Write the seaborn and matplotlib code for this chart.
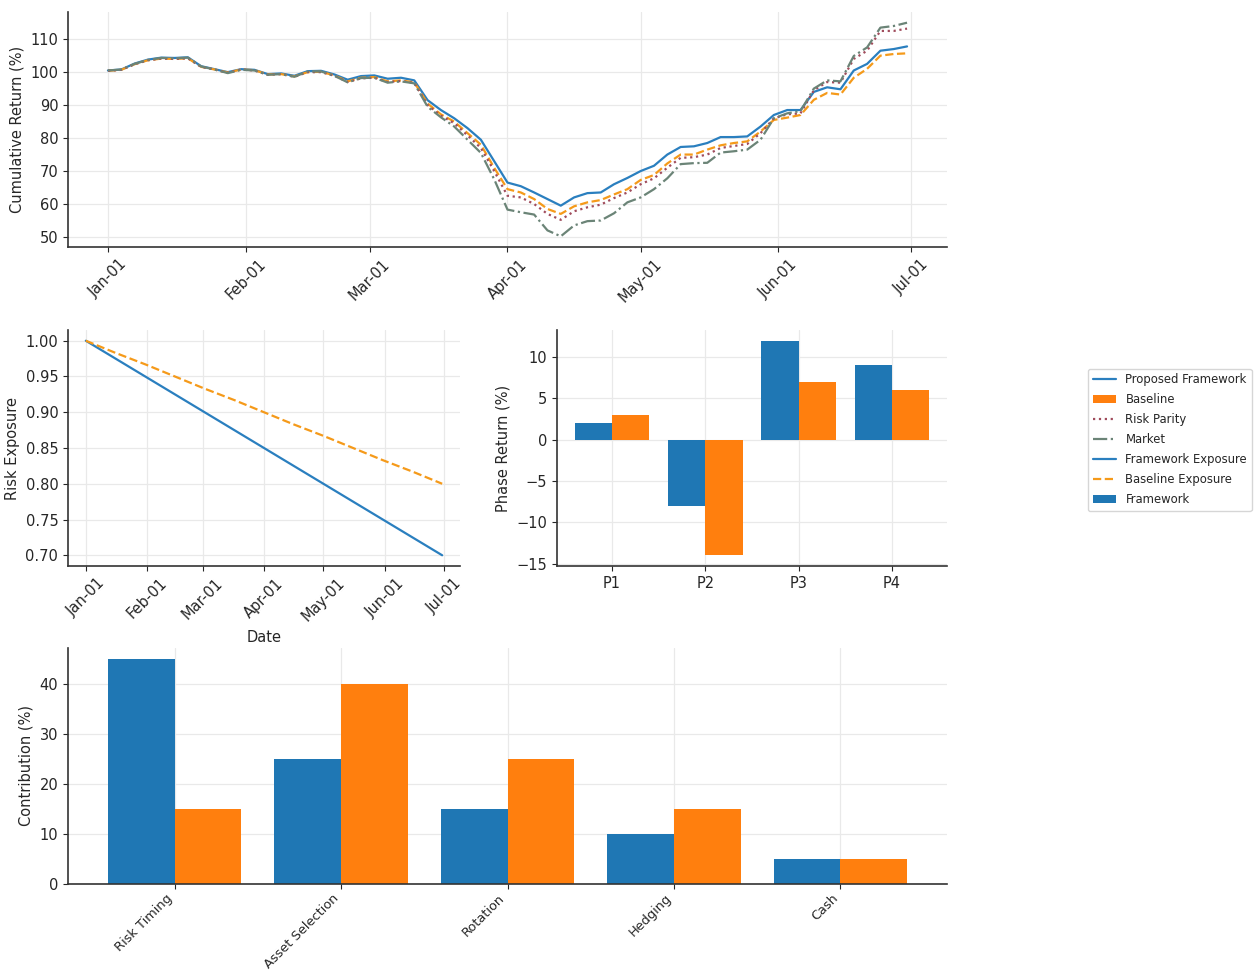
import matplotlib
matplotlib.use("Agg")
import matplotlib.pyplot as plt
import matplotlib.dates as mdates
from matplotlib.ticker import MultipleLocator, FormatStrFormatter
import pandas as pd
import seaborn as sns

# ---------------------------------------------------------------- data
# cumulative return paths, sampled every 3 days from 2023-01-01 to 2023-06-30
perf_dates = pd.date_range("2023-01-01", periods=61, freq="3D")

proposed_framework = [
    100.5, 100.8, 102.6, 103.8, 104.4, 104.3, 104.5, 101.8, 100.9, 100.0,
    100.9, 100.7, 99.4, 99.6, 98.9, 100.3, 100.4, 99.3, 97.7, 98.8,
    99.0, 98.0, 98.3, 97.5, 91.5, 88.5, 86.0, 83.0, 79.5, 73.0,
    66.5, 65.4, 63.5, 61.5, 59.5, 62.0, 63.3, 63.5, 66.0, 67.9,
    70.0, 71.6, 75.0, 77.3, 77.5, 78.5, 80.3, 80.3, 80.5, 83.5,
    87.0, 88.5, 88.5, 94.0, 95.4, 94.8, 100.5, 102.5, 106.5, 107.0,
    107.8,
]
baseline = [
    100.4, 100.7, 102.4, 103.6, 104.1, 104.0, 104.2, 101.6, 100.8, 99.9,
    100.8, 100.6, 99.3, 99.4, 98.7, 100.0, 100.1, 99.0, 97.2, 98.3,
    98.5, 97.2, 97.5, 96.9, 90.5, 87.2, 85.0, 81.5, 78.0, 71.0,
    64.5, 63.5, 61.5, 58.5, 57.0, 59.3, 60.5, 61.2, 62.9, 64.5,
    67.3, 68.8, 72.3, 75.0, 75.0, 76.5, 77.8, 78.5, 79.0, 82.0,
    85.5, 86.2, 87.0, 91.6, 93.7, 93.2, 98.3, 101.0, 105.0, 105.5,
    105.7,
]
risk_parity = [
    100.4, 100.7, 102.4, 103.6, 104.1, 104.0, 104.2, 101.6, 100.8, 99.8,
    100.8, 100.5, 99.2, 99.4, 98.6, 100.0, 100.0, 98.9, 97.0, 98.1,
    98.3, 97.0, 97.3, 96.7, 90.0, 86.8, 84.5, 80.8, 77.0, 70.0,
    62.5, 62.0, 60.0, 57.0, 55.2, 57.8, 59.0, 59.8, 61.8, 63.5,
    66.0, 67.8, 71.0, 74.0, 74.2, 75.0, 77.0, 77.6, 78.2, 81.5,
    86.0, 87.2, 87.5, 94.5, 97.0, 96.8, 104.0, 106.5, 112.5, 112.5,
    113.2,
]
market = [
    100.5, 100.8, 102.5, 103.7, 104.3, 104.2, 104.4, 101.7, 100.8, 99.7,
    100.7, 100.5, 99.2, 99.4, 98.6, 100.2, 100.2, 98.9, 96.9, 98.2,
    98.3, 96.8, 97.2, 96.6, 89.5, 86.3, 83.5, 79.5, 75.5, 67.5,
    58.3, 57.5, 56.8, 52.0, 50.2, 53.5, 54.8, 55.0, 57.2, 60.5,
    62.0, 64.5, 67.8, 72.1, 72.4, 72.5, 75.6, 76.0, 76.5, 79.5,
    86.0, 87.5, 88.2, 95.0, 97.5, 97.2, 104.9, 107.5, 113.5, 114.0,
    115.0,
]

# risk exposure, every 15 days
exposure_dates = pd.date_range("2023-01-01", periods=13, freq="15D")
framework_exposure = [1.000, 0.975, 0.950, 0.925, 0.900, 0.875, 0.850,
                      0.825, 0.800, 0.775, 0.750, 0.725, 0.700]
baseline_exposure = [1.000, 0.983, 0.967, 0.950, 0.933, 0.917, 0.900,
                     0.883, 0.867, 0.850, 0.833, 0.817, 0.800]

# phase returns
phases = ["P1", "P2", "P3", "P4"]
phase_framework = [2, -8, 12, 9]
phase_baseline = [3, -14, 7, 6]

# return attribution
components = ["Risk Timing", "Asset Selection", "Rotation", "Hedging", "Cash"]
contrib_framework = [45, 25, 15, 10, 5]
contrib_baseline = [15, 40, 25, 15, 5]

strategies = ["Framework", "Baseline"]
bar_palette = {"Framework": "#1f77b4", "Baseline": "#ff7f0e"}

# ---------------------------------------------------------------- style
sns.set_style("ticks")
plt.rcParams.update({
    "font.family": ["DejaVu Sans"],
    "font.size": 10.5,
    "axes.labelsize": 10.5,
    "xtick.labelsize": 10.5,
    "ytick.labelsize": 10.5,
    "axes.grid": True,
    "grid.color": "#e9e9e9",
    "grid.linewidth": 0.9,
    "axes.edgecolor": "#333333",
    "axes.linewidth": 1.2,
})

fig = plt.figure(figsize=(12.54, 9.73), dpi=100)
W, H = 1254, 973


def place(x0, y0, x1, y1):
    return fig.add_axes([x0 / W, 1 - y1 / H, (x1 - x0) / W, (y1 - y0) / H])


ax_top = place(68, 12, 947, 247)
ax_exp = place(68, 330, 460, 566)
ax_phase = place(557, 330, 947, 566)
ax_attr = place(68, 648, 947, 884)

# ---------------------------------------------------------------- cumulative returns
series = [
    ("Proposed Framework", proposed_framework, "#2a7fbf", "-"),
    ("Baseline", baseline, "#f59a1a", "--"),
    ("Risk Parity", risk_parity, "#a04c5c", ":"),
    ("Market", market, "#6b8477", "-."),
]
for name, vals, color, ls in series:
    sns.lineplot(x=perf_dates, y=vals, ax=ax_top, color=color, linestyle=ls,
                 linewidth=1.6, label=name, legend=False)
ax_top.set_ylabel("Cumulative Return (%)")
ax_top.set_xlabel("")
ax_top.yaxis.set_major_locator(MultipleLocator(10))
ax_top.xaxis.set_major_locator(mdates.MonthLocator())
ax_top.xaxis.set_major_formatter(mdates.DateFormatter("%b-%d"))
ax_top.tick_params(axis="x", labelrotation=45)

# ---------------------------------------------------------------- exposure
sns.lineplot(x=exposure_dates, y=framework_exposure, ax=ax_exp, color="#2a7fbf",
             linestyle="-", linewidth=1.6, label="Framework Exposure", legend=False)
sns.lineplot(x=exposure_dates, y=baseline_exposure, ax=ax_exp, color="#f59a1a",
             linestyle="--", linewidth=1.6, label="Baseline Exposure", legend=False)
ax_exp.set_ylabel("Risk Exposure")
ax_exp.set_xlabel("Date")
ax_exp.yaxis.set_major_locator(MultipleLocator(0.05))
ax_exp.yaxis.set_major_formatter(FormatStrFormatter("%.2f"))
ax_exp.xaxis.set_major_locator(mdates.MonthLocator())
ax_exp.xaxis.set_major_formatter(mdates.DateFormatter("%b-%d"))
ax_exp.tick_params(axis="x", labelrotation=45)

# ---------------------------------------------------------------- phase returns
phase_df = pd.DataFrame({
    "phase": phases * 2,
    "ret": phase_framework + phase_baseline,
    "strategy": ["Framework"] * len(phases) + ["Baseline"] * len(phases),
})
sns.barplot(data=phase_df, x="phase", y="ret", hue="strategy", hue_order=strategies,
            palette=bar_palette, saturation=1, errorbar=None, width=0.8,
            linewidth=0, ax=ax_phase, legend=False)
for cont, lab in zip(ax_phase.containers, strategies):
    cont.set_label(lab)
ax_phase.set_ylabel("Phase Return (%)")
ax_phase.set_xlabel("")
ax_phase.set_xlim(-0.59, len(phases) - 1 + 0.59)
ax_phase.set_ylim(-15.3, 13.3)
ax_phase.yaxis.set_major_locator(MultipleLocator(5))
ax_phase.grid(True, axis="both")

# ---------------------------------------------------------------- attribution
attr_df = pd.DataFrame({
    "component": components * 2,
    "contrib": contrib_framework + contrib_baseline,
    "strategy": ["Framework"] * len(components) + ["Baseline"] * len(components),
})
sns.barplot(data=attr_df, x="component", y="contrib", hue="strategy", hue_order=strategies,
            palette=bar_palette, saturation=1, errorbar=None, width=0.8,
            linewidth=0, ax=ax_attr, legend=False)
for cont, lab in zip(ax_attr.containers, strategies):
    cont.set_label(lab)
ax_attr.set_ylabel("Contribution (%)")
ax_attr.set_xlabel("")
ax_attr.set_xlim(-0.64, len(components) - 1 + 0.64)
ax_attr.set_ylim(0, 47.25)
ax_attr.yaxis.set_major_locator(MultipleLocator(10))
ax_attr.set_xticks(range(len(components)))
ax_attr.set_xticklabels(components, rotation=45, ha="right", fontsize=9.3)
ax_attr.tick_params(axis="x", pad=2)
ax_attr.grid(True, axis="both")

for ax in (ax_top, ax_exp, ax_phase, ax_attr):
    ax.set_axisbelow(True)
sns.despine(fig=fig)

# ---------------------------------------------------------------- shared legend
collected = {}
for ax in (ax_top, ax_exp, ax_phase, ax_attr):
    hs, ls = ax.get_legend_handles_labels()
    for h, l in zip(hs, ls):
        collected[l] = h
fig.legend(list(collected.values()), list(collected.keys()), loc="center right",
           bbox_to_anchor=(1.0, 0.548), fontsize=8.4, labelspacing=0.6,
           frameon=True, borderaxespad=0.2)

fig.savefig("out.png", dpi=100)
